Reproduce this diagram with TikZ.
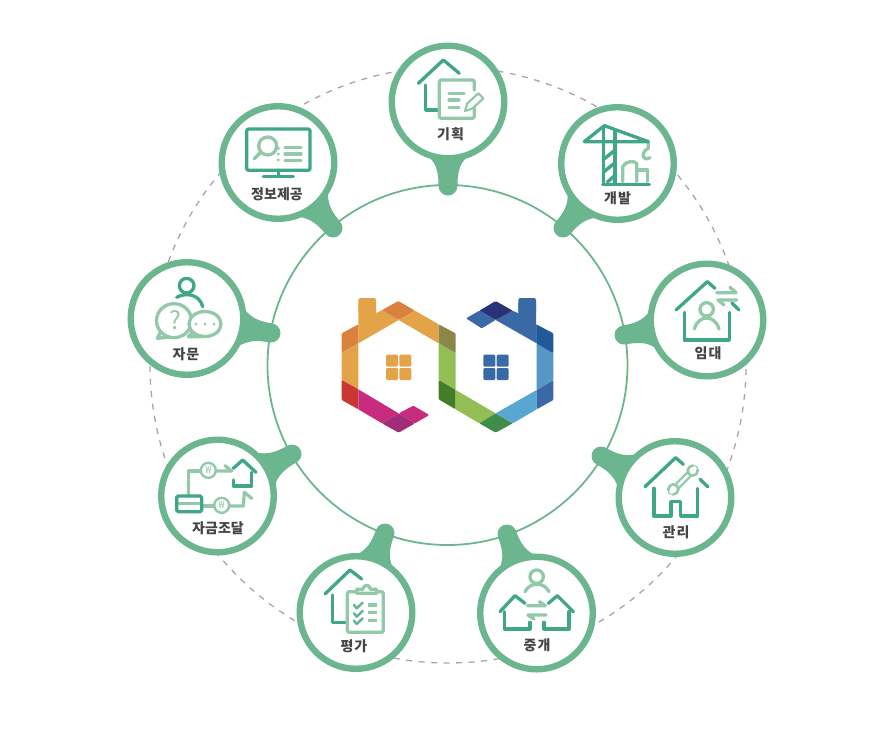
\documentclass[tikz,border=0pt]{standalone}
\usepackage{fontspec}
\setmainfont{Noto Sans CJK KR}
\usetikzlibrary{calc}
\pgfdeclarelayer{back}
\pgfsetlayers{back,main}
\definecolor{ring}{HTML}{6BB68F}
\definecolor{dk}{HTML}{3FA687}
\definecolor{lt}{HTML}{92C9A9}
\definecolor{txt}{HTML}{454545}
\definecolor{lgor}{HTML}{E2A349}
\definecolor{lgdo}{HTML}{DB8140}
\definecolor{lgre}{HTML}{C93633}
\definecolor{lgma}{HTML}{C72C7E}
\definecolor{lgpu}{HTML}{A22C78}
\definecolor{lgol}{HTML}{8A8748}
\definecolor{lggr}{HTML}{92BE54}
\definecolor{lgdg}{HTML}{437E26}
\definecolor{lgsg}{HTML}{3F8C4B}
\definecolor{lglb}{HTML}{57A7D2}
\definecolor{lgmb}{HTML}{5896C6}
\definecolor{lgbl}{HTML}{3A6AA5}
\definecolor{lgdb}{HTML}{205A9A}
\definecolor{lgna}{HTML}{2B3378}
\tikzset{
  hub/.style={circle,draw=ring,line width=6.4pt,fill=white,minimum size=112.6pt,inner sep=0pt},
  tipdot/.style={circle,fill=ring,minimum size=19pt,inner sep=0pt},
  lab/.style={font=\bfseries\fontsize{14}{14}\selectfont,text=txt,inner sep=0pt},
  dkl/.style={draw=dk,line width=3.3pt,line cap=round,line join=round},
  ltl/.style={draw=lt,line width=3.3pt,line cap=round,line join=round},
  icon/.style={x=0.33333pt,y=-0.33333pt},
  won/.style={font=\fontsize{10}{10}\selectfont,text=lt,inner sep=0pt},
}
\newcommand{\pinshape}[2]{%
  \coordinate (pa) at ($(#2)!13pt!(#1)$);
  \coordinate (pb) at ($(#2)!21pt!(#1)$);
  \fill[ring] ($(#2)!9.5pt!90:(#1)$)
    .. controls ($(pa)!9.5pt!90:(#1)$) and ($(pb)!11pt!90:(#1)$) .. ($(#1)!58pt!-19:(#2)$)
    -- ($(#1)!58pt!19:(#2)$)
    .. controls ($(pb)!11pt!-90:(#1)$) and ($(pa)!9.5pt!-90:(#1)$) .. ($(#2)!9.5pt!-90:(#1)$)
    -- cycle;
}
\begin{document}
\begin{tikzpicture}[x=1pt,y=-1pt]
\useasboundingbox (0,0) rectangle (888,740);
% hubs and tips
\node[hub] (n1) at (448,102) {};
\node[hub] (n2) at (617.5,163.5) {};
\node[hub] (n3) at (707,320) {};
\node[hub] (n4) at (675,497.5) {};
\node[hub] (n5) at (536.5,613) {};
\node[hub] (n6) at (356,612.5) {};
\node[hub] (n7) at (217.5,496) {};
\node[hub] (n8) at (187,318.5) {};
\node[hub] (n9) at (278,162.5) {};
\node[tipdot] (t1) at (448,186) {};
\node[tipdot] (t2) at (563,228) {};
\node[tipdot] (t3) at (624,335) {};
\node[tipdot] (t4) at (601,456) {};
\node[tipdot] (t5) at (507,534) {};
\node[tipdot] (t6) at (385,533) {};
\node[tipdot] (t7) at (292,454) {};
\node[tipdot] (t8) at (271,333) {};
\node[tipdot] (t9) at (333,228) {};
\begin{pgfonlayer}{back}
\draw[draw=black!35,line width=1.3pt,dash pattern=on 6pt off 6.5pt] (448,365) circle[radius=298pt];
\draw[draw=ring,line width=1.8pt] (447.5,365) circle[radius=180pt];
\pinshape{n1}{t1}\pinshape{n2}{t2}\pinshape{n3}{t3}\pinshape{n4}{t4}\pinshape{n5}{t5}\pinshape{n6}{t6}\pinshape{n7}{t7}\pinshape{n8}{t8}\pinshape{n9}{t9}
\end{pgfonlayer}
% labels
\node[lab] (l1) at (450.5,134.5) {기\hspace{1pt}획};
\node[lab] (l2) at (617.5,198.5) {개\hspace{1pt}발};
\node[lab] (l3) at (708,353.5) {임\hspace{1pt}대};
\node[lab] (l4) at (676,532.5) {관\hspace{1pt}리};
\node[lab] (l5) at (537,645.5) {중\hspace{1pt}개};
\node[lab] (l6) at (354,646.5) {평\hspace{1pt}가};
\node[lab] (l7) at (218,528.5) {자금조달};
\node[lab] (l8) at (186,354.5) {자\hspace{1pt}문};
\node[lab] (l9) at (277,194.5) {정보제공};
% logo
\begin{scope}[shift={(320,280)},icon]
\fill[lgor,rounded corners=2pt] (115,100)--(115,54)--(168,54)--(168,100)--cycle;
\fill[lgor] (115,70)--(115,190)--(236,120)--(186,90)--(168,100)--(168,70)--cycle;
\fill[lgdo,rounded corners=1pt] (186,90)--(235,63)--(285,92)--(236,120)--cycle;
\fill[lgor] (236,120)--(285,92)--(356,133)--(356,190)--cycle;
\fill[lgdo,rounded corners=1pt] (115,133)--(115,190)--(65,218)--(65,160)--cycle;
\fill[lgor] (65,218)--(115,190)--(115,328)--(65,300)--cycle;
\fill[lgre,rounded corners=1pt] (65,300)--(115,328)--(115,388)--(65,360)--cycle;
\fill[lgma] (115,328)--(236,400)--(186,430)--(115,388)--cycle;
\fill[lgpu,rounded corners=1pt] (186,430)--(236,400)--(285,430)--(236,458)--cycle;
\fill[lgma,rounded corners=1pt] (236,400)--(280,377)--(328,405)--(285,430)--cycle;
\fill[lgol,rounded corners=1pt] (356,133)--(407,160)--(407,220)--(356,190)--cycle;
\fill[lggr] (356,190)--(407,220)--(407,330)--(356,300)--cycle;
\fill[lgdg,rounded corners=1pt] (356,300)--(407,330)--(407,388)--(356,358)--cycle;
\fill[lggr] (407,330)--(527,400)--(478,430)--(407,388)--cycle;
\fill[lgsg,rounded corners=1pt] (478,430)--(527,400)--(578,430)--(527,458)--cycle;
\fill[lglb] (527,400)--(650,330)--(650,388)--(578,430)--cycle;
\fill[lgbl,rounded corners=1pt] (650,330)--(700,300)--(700,360)--(650,388)--cycle;
\fill[lgmb] (650,190)--(700,220)--(700,300)--(650,330)--cycle;
\fill[lgbl,rounded corners=2pt] (595,100)--(595,54)--(648,54)--(648,100)--cycle;
\fill[lgbl] (650,133)--(650,190)--(527,120)--(578,92)--(595,100)--(595,70)--(648,70)--(648,133)--cycle;
\fill[lgdb,rounded corners=1pt] (649,133)--(700,160)--(700,220)--(649,190)--cycle;
\fill[lgna,rounded corners=1pt] (478,92)--(527,63)--(578,92)--(527,120)--cycle;
\fill[lgbl,rounded corners=1pt] (478,92)--(527,120)--(485,145)--(438,115)--cycle;
\foreach \wx/\wc in {198/lgor,490/lgbl}{
  \fill[\wc,rounded corners=1.2pt] (\wx,224) rectangle ++(36,36);
  \fill[\wc,rounded corners=1.2pt] (\wx+40,224) rectangle ++(36,36);
  \fill[\wc,rounded corners=1.2pt] (\wx,264) rectangle ++(36,36);
  \fill[\wc,rounded corners=1.2pt] (\wx+40,264) rectangle ++(36,36);
}
\end{scope}
% icon 1
\begin{scope}[shift={(380,35)},icon]
\draw[dkl] (115,145)--(190,75)--(238,115);
\draw[dkl] (137,150)--(137,225)--(175,225);
\draw[ltl,rounded corners=2pt] (283,165)--(283,135)--(178,135)--(178,250)--(283,250)--(283,218);
\draw[ltl] (207,175)--(252,175) (207,195)--(237,195) (207,217)--(237,217);
\draw[ltl,line width=2.2pt] (255,228)--(262,205)--(295,175)--(310,190)--(278,220)--cycle;
\end{scope}
% icon 2
\begin{scope}[shift={(380,35)},icon]
\draw[ltl] (805,322)--(805,340) .. controls (782,350) and (785,382) .. (810,368);
\draw[ltl] (728,440)--(728,395) .. controls (735,380) and (760,375) .. (770,385)--(770,440);
\draw[ltl] (770,405)--(803,405)--(803,440);
\draw[dkl] (613,320)--(805,320)--(673,272)--cycle;
\draw[dkl] (670,275)--(670,448) (705,288)--(705,448);
\draw[dkl] (668,448)--(808,448);
\draw[dkl,line width=3.4pt,line cap=butt] (703,347)--(672,372) (703,385)--(672,410) (703,423)--(680,443);
\end{scope}
% icon 3
\begin{scope}[shift={(120,95)},icon]
\draw[dkl,rounded corners=2pt] (380,102) rectangle (570,226);
\draw[dkl] (475,226)--(475,245) (430,245)--(520,245);
\draw[ltl] (443,153) circle[radius=9pt];
\draw[ltl] (422,172)--(402,192);
\draw[ltl] (495,157)--(543,157) (495,177)--(543,177) (495,197)--(543,197);
\fill[lt] (475,160) circle[radius=1.6pt] (475,177) circle[radius=1.6pt] (475,195) circle[radius=1.6pt];
\end{scope}
% icon 4
\begin{scope}[shift={(120,95)},icon]
\draw[dkl] (200,572) circle[radius=7.3pt];
\draw[dkl] (170,607) .. controls (200,590) and (240,600) .. (248,635);
\draw[ltl,fill=white] (125,705)--(112,730)--(150,726);
\draw[ltl,fill=white] (162,677) ellipse[x radius=17.5pt,y radius=17pt];
\draw[ltl,fill=white] (218,712)--(205,725)--(245,725);
\draw[ltl,fill=white] (255,687) ellipse[x radius=16pt,y radius=12.5pt];
\fill[lt] (228,687) circle[radius=1.5pt] (255,687) circle[radius=1.5pt] (282,687) circle[radius=1.5pt];
\node[font=\fontsize{25}{25}\selectfont,text=lt,inner sep=0pt] (q4) at (167,676) {?};
\end{scope}
% icon 5
\begin{scope}[shift={(150,430)},icon]
\draw[ltl] (115,192)--(115,123)--(152,123);
\draw[ltl,line width=2.4pt] (175,121) circle[radius=7.5pt];
\draw[ltl] (198,123)--(245,123)--(225,107);
\draw[ltl] (155,228)--(192,228);
\draw[ltl,line width=2.4pt] (215,226) circle[radius=7.5pt];
\draw[ltl] (238,228)--(280,228)--(283,187)--(305,205);
\draw[dkl] (250,115)--(278,90)--(318,127);
\draw[dkl] (305,127)--(305,168)--(250,168)--(250,150);
\draw[ltl] (82,220)--(153,220);
\draw[dkl,rounded corners=1.5pt] (80,198) rectangle (155,245);
\node[won] (w1) at (175,121) {₩};
\node[won] (w2) at (215,226) {₩};
\end{scope}
% icon 6
\begin{scope}[shift={(150,430)},icon]
\draw[dkl] (525,492)--(600,420)--(635,447);
\draw[dkl] (547,495)--(547,577)--(590,577);
\draw[ltl,rounded corners=2pt] (620,485)--(592,485)--(592,607)--(700,607)--(700,485)--(680,485);
\draw[ltl,fill=white] (620,490)--(620,478)--(638,478) .. controls (642,462) and (658,462) .. (662,478)--(680,478)--(680,490)--cycle;
\draw[dkl,line width=2.4pt,draw=dk!60!lt] (612,525)--(620,535)--(638,518) (612,550)--(620,560)--(638,543) (612,572)--(620,582)--(638,565);
\draw[ltl,line cap=butt] (655,525)--(680,525) (655,548)--(680,548) (655,572)--(680,572);
\end{scope}
% icon 7
\begin{scope}[shift={(470,430)},icon]
\draw[ltl] (200,440) circle[radius=6.7pt];
\draw[ltl] (165,485) .. controls (180,455) and (222,455) .. (237,485);
\draw[ltl] (172,527)--(226,527)--(208,515);
\draw[ltl] (228,555)--(174,555)--(192,567);
\draw[dkl] (90,545)--(135,497)--(165,520);
\draw[dkl] (103,545)--(103,597)--(180,597)--(180,577);
\draw[dkl] (310,545)--(262,497)--(235,520);
\draw[dkl] (297,545)--(297,597)--(222,597)--(222,577);
\end{scope}
% icon 8
\begin{scope}[shift={(470,430)},icon]
\draw[dkl] (525,170)--(617,83)--(640,103);
\draw[dkl] (690,148)--(713,170);
\draw[dkl] (552,175)--(552,258)--(603,258)--(603,215)--(632,215)--(632,258)--(683,258)--(683,175);
\draw[draw=lt,line width=7pt,line cap=butt] (620,170)--(658,132);
\draw[draw=white,line width=2.4pt,line cap=butt] (620,170)--(658,132);
\draw[ltl,fill=white,line width=2.6pt] (610,178) circle[radius=5pt] (668,122) circle[radius=5pt];
\draw[draw=white,line width=4pt,line cap=butt] (606,184)--(601,189) (672,116)--(677,111);
\end{scope}
% icon 9
\begin{scope}[shift={(600,255)},icon]
\draw[dkl] (228,165)--(322,80)--(345,100);
\draw[dkl] (395,143)--(417,165);
\draw[dkl] (253,172)--(253,255)--(388,255)--(388,172);
\draw[ltl] (320,163) circle[radius=6.7pt];
\draw[ltl] (283,222) .. controls (295,178) and (345,178) .. (357,222);
\draw[ltl] (350,113)--(408,113)--(390,97);
\draw[ltl] (410,135)--(354,135)--(372,150);
\end{scope}
\end{tikzpicture}
\end{document}
